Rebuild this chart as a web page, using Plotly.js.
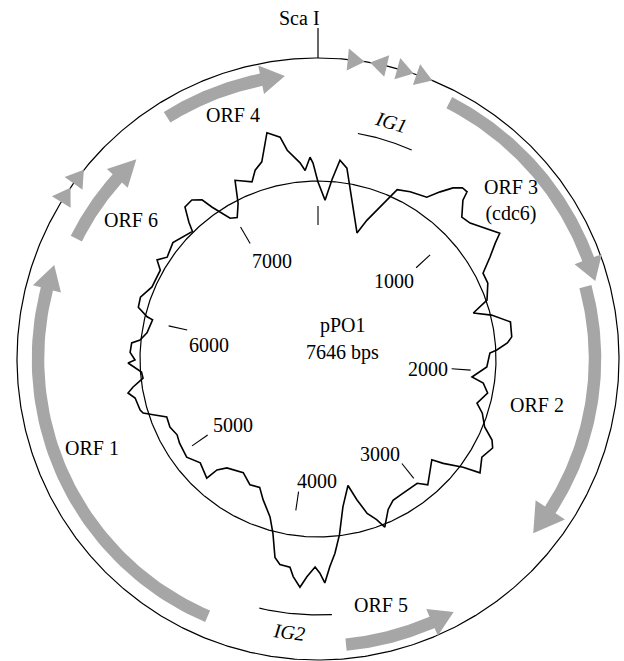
<!DOCTYPE html>
<html><head><meta charset="utf-8">
<script src="https://cdn.plot.ly/plotly-3.0.1.min.js"></script>
<style>html,body{margin:0;padding:0;background:#fff;}#chart{width:624px;height:661px;}</style>
</head><body><div id="chart"></div>
<script>
// ---------------- data ----------------
const plasmidName = "pPO1";
const plasmidLength = 7646;
const orfNames = ["ORF 1", "ORF 2", "ORF 3<br>(cdc6)", "ORF 4", "ORF 5", "ORF 6"];
const orfStart = [4316, 1590, 576, 6967, 3704, 6297];
const orfEnd   = [6151, 2740, 1578, 7504, 3224, 6748];
const igNames = ["IG1", "IG2"];
const igStart = [213, 3757];
const igEnd   = [513, 4104];
const repeatPos = [155, 246, 359, 440, 6437, 6527];
const repeatDir = [1, -1, 1, 1, 1, 1];
const siteNames = ["Sca I"];
const sitePos = [0];
const tickPos = [0, 1000, 2000, 3000, 4000, 5000, 6000, 7000];
const tickLabels = ["", "1000", "2000", "3000", "4000", "5000", "6000", "7000"];
const skewPos = [0,54,95,134,183,224,275,365,412,471,509,532,613,720,768,813,852,886,900,964,1024,1128,1175,1206,1260,1328,1400,1503,1561,1610,1680,1773,1809,1850,1869,1969,2053,2088,2152,2241,2299,2383,2442,2485,2568,2657,2691,2757,2793,2950,3003,3161,3229,3292,3363,3397,3448,3495,3540,3620,3675,3717,3754,3786,3813,3840,3885,3919,3961,3986,4046,4083,4131,4182,4276,4342,4427,4531,4671,4722,4737,4855,4953,5070,5134,5210,5289,5337,5370,5395,5479,5519,5552,5602,5645,5709,5728,5777,5839,5864,5919,6018,6029,6076,6142,6233,6359,6406,6457,6557,6700,6725,6771,6830,6880,6905,6931,6967,7015,7069,7117,7212,7255,7308,7376,7440,7468,7535,7563,7598,7615];
const skewVal = [-1,-19,2,22,15,-3,-22,-46,-31,-14,-1,9,13,17,29,40,46,46,37,24,26,37,43,34,22,8,8,1,-16,1,18,17,12,1,-6,-9,-23,-11,-5,-13,-5,2,14,18,13,20,3,-15,-26,-11,-19,-19,-18,-12,3,-7,-16,-32,-48,-28,-1,17,30,46,36,30,40,51,41,32,31,25,2,-13,-27,-37,-35,-42,-36,-28,-15,-21,-14,-16,-18,-15,-16,-4,5,7,9,15,9,-2,-1,12,5,10,9,1,-5,-8,-2,9,10,3,3,11,4,8,1,10,24,25,19,7,-1,-12,-15,-3,19,11,21,27,54,47,33,19,11,24,18];

// ---------------- style ----------------
const GRAY = "#a6a6a6";
const FONT = "Liberation Serif, Times New Roman, serif";
const FS = 20;
const R_OUT = 301, R_IN = 178;
const orfRadius = [280, 277, 288, 285, 287, 270];
const orfHeadW = [29, 35, 29, 29, 29, 28];
const orfHeadL = [25, 29, 23, 24, 24, 27];
const SHAFT = 12.5;
const igRadius = [229, 256];
const TICK_R0 = 134, TICK_R1 = 153;

function ang(bp) { return bp / plasmidLength * 2 * Math.PI; }
function pt(a, r) { return [r * Math.sin(a), r * Math.cos(a)]; }

const traces = [];
function circle(r, w) {
  const x = [], y = [];
  for (let i = 0; i <= 720; i++) { const p = pt(i / 720 * 2 * Math.PI, r); x.push(p[0]); y.push(p[1]); }
  traces.push({type: "scatter", mode: "lines", x, y, line: {color: "#000", width: w}, hoverinfo: "skip"});
}
circle(R_OUT, 1.2);
circle(R_IN, 1.2);

// ORF arrows
for (let i = 0; i < orfNames.length; i++) {
  const a0 = ang(orfStart[i]), a1 = ang(orfEnd[i]);
  const dir = Math.sign(a1 - a0), r = orfRadius[i];
  const hb = a1 - dir * orfHeadL[i] / r;
  const x = [], y = [];
  const N = 60;
  for (let k = 0; k <= N; k++) { const p = pt(a0 + (hb - a0) * k / N, r + SHAFT / 2); x.push(p[0]); y.push(p[1]); }
  let p = pt(hb, r + orfHeadW[i] / 2); x.push(p[0]); y.push(p[1]);
  p = pt(a1, r); x.push(p[0]); y.push(p[1]);
  p = pt(hb, r - orfHeadW[i] / 2); x.push(p[0]); y.push(p[1]);
  for (let k = N; k >= 0; k--) { const q = pt(a0 + (hb - a0) * k / N, r - SHAFT / 2); x.push(q[0]); y.push(q[1]); }
  traces.push({type: "scatter", mode: "lines", x, y, fill: "toself", fillcolor: GRAY, line: {width: 0, color: GRAY}, hoverinfo: "skip"});
}

// repeat triangles on the outer circle
for (let i = 0; i < repeatPos.length; i++) {
  const a = ang(repeatPos[i]), d = repeatDir[i];
  const L = 17, W = 22;
  const tip = pt(a + d * (L / 2) / R_OUT, R_OUT);
  const b1 = pt(a - d * (L / 2) / R_OUT, R_OUT + W / 2);
  const b2 = pt(a - d * (L / 2) / R_OUT, R_OUT - W / 2);
  traces.push({type: "scatter", mode: "lines", x: [tip[0], b1[0], b2[0], tip[0]], y: [tip[1], b1[1], b2[1], tip[1]],
    fill: "toself", fillcolor: GRAY, line: {width: 0, color: GRAY}, hoverinfo: "skip"});
}

// IG arcs
for (let i = 0; i < igNames.length; i++) {
  const x = [], y = [];
  for (let k = 0; k <= 40; k++) { const p = pt(ang(igStart[i]) + (ang(igEnd[i]) - ang(igStart[i])) * k / 40, igRadius[i]); x.push(p[0]); y.push(p[1]); }
  traces.push({type: "scatter", mode: "lines", x, y, line: {color: "#000", width: 1.2}, hoverinfo: "skip"});
}

// scale ticks
(function () {
  const x = [], y = [];
  tickPos.forEach(b => { const p = pt(ang(b), TICK_R0), q = pt(ang(b), TICK_R1); x.push(p[0], q[0], null); y.push(p[1], q[1], null); });
  traces.push({type: "scatter", mode: "lines", x, y, line: {color: "#000", width: 1.1}, hoverinfo: "skip"});
})();

// restriction site tick
(function () {
  const x = [], y = [];
  sitePos.forEach(b => { const p = pt(ang(b), R_OUT), q = pt(ang(b), R_OUT + 30); x.push(p[0], q[0], null); y.push(p[1], q[1], null); });
  traces.push({type: "scatter", mode: "lines", x, y, line: {color: "#000", width: 1.2}, hoverinfo: "skip"});
})();

// skew profile
(function () {
  const x = [], y = [];
  for (let i = 0; i <= skewPos.length; i++) {
    const j = i % skewPos.length;
    const p = pt(ang(skewPos[j]), R_IN + skewVal[j]); x.push(p[0]); y.push(p[1]);
  }
  traces.push({type: "scatter", mode: "lines", x, y, line: {color: "#000", width: 1.6}, hoverinfo: "skip"});
})();

// ---------------- annotations ----------------
const ann = [];
function txt(text, x, y, extra) {
  ann.push(Object.assign({text, x, y, xref: "x", yref: "y", showarrow: false, font: {family: FONT, size: FS, color: "#000"}, xanchor: "center", yanchor: "middle"}, extra || {}));
}
// tick labels anchored at the inner end of each tick
const tickAnchors = [null, ["right", "top", 0, 0], ["right", "middle", -2, 0], ["right", "bottom", 0, -3], ["left", "bottom", -4, -2], ["left", "bottom", 3, -3], ["left", "top", 0, -2], ["left", "top", 0, -5]];
tickPos.forEach((b, i) => {
  if (!tickLabels[i]) return;
  const p = pt(ang(b), TICK_R0), t = tickAnchors[i];
  txt(tickLabels[i], p[0], p[1], {xanchor: t[0], yanchor: t[1], xshift: t[2], yshift: t[3]});
});
// feature labels
const orfLabelXY = [[-226, -89], [219, -46], [193, 159], [-85, 244], [63, -246], [-187, 139]];
orfNames.forEach((n, i) => txt(n, orfLabelXY[i][0], orfLabelXY[i][1]));
txt(igNames[0], 73, 237, {textangle: 16, font: {family: FONT, size: FS, color: "#000", style: "italic"}});
txt(igNames[1], -29, -273, {textangle: 7, font: {family: FONT, size: FS, color: "#000", style: "italic"}});
txt(siteNames[0], -19, 341);
txt(plasmidName, 25, 34);
txt(plasmidLength + " bps", 24, 7);

const layout = {
  width: 624, height: 661,
  margin: {l: 0, r: 0, t: 0, b: 0, pad: 0},
  paper_bgcolor: "#fff", plot_bgcolor: "#fff",
  showlegend: false,
  xaxis: {range: [-318, 306], visible: false, fixedrange: true},
  yaxis: {range: [-302, 359], visible: false, fixedrange: true},
  annotations: ann
};
Plotly.newPlot("chart", traces, layout, {staticPlot: true, displayModeBar: false});
</script></body></html>
